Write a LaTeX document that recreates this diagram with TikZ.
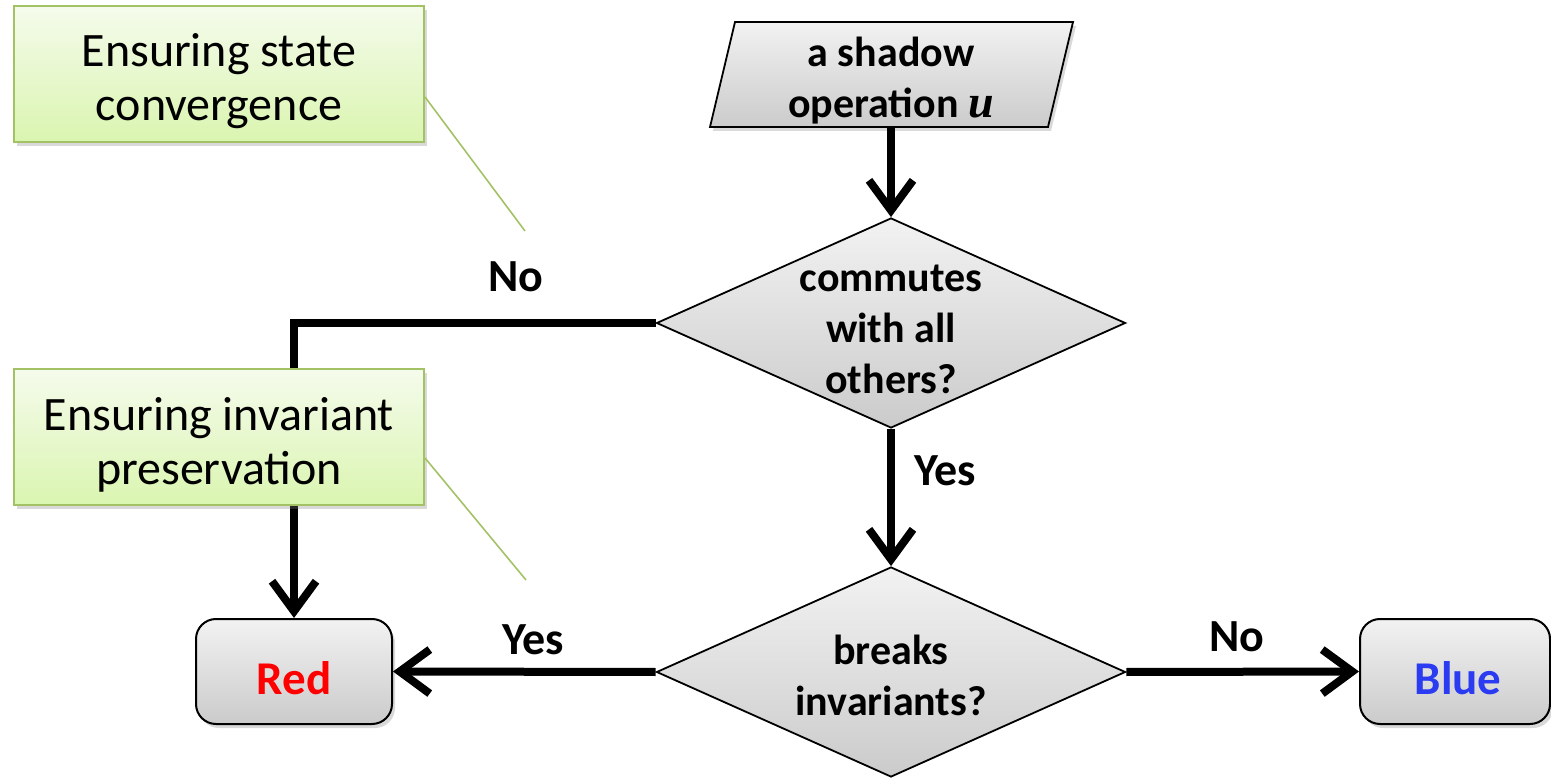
\documentclass[tikz,border=0pt]{standalone}
\usepackage{fontspec}
\setmainfont{Carlito}
\newfontfamily\cambriaish{Liberation Serif}
\usetikzlibrary{shapes.geometric,arrows.meta,shadows}
\definecolor{calloutborder}{HTML}{A3C266}
\definecolor{callouttop}{HTML}{F5FBEC}
\definecolor{calloutbot}{HTML}{DAF5B0}
\definecolor{graytop}{HTML}{F2F2F2}
\definecolor{graybot}{HTML}{CBCBCB}
\definecolor{bluetext}{HTML}{2B3BF2}
\definecolor{redtext}{HTML}{FF0000}
\tikzset{
  myshadow/.style={drop shadow={opacity=0.3,shadow xshift=1.5pt,shadow yshift=-2pt}},
  callout/.style={rectangle,draw=calloutborder,line width=1pt,top color=callouttop,bottom color=calloutbot,
    minimum width=205pt,minimum height=68pt,inner sep=0pt,myshadow},
  callouttext/.style={align=center,inner sep=0pt,font=\fontsize{24}{27}\selectfont},
  pointer/.style={draw=calloutborder,line width=0.8pt},
  decision/.style={diamond,draw=black,line width=0.9pt,top color=graytop,bottom color=graybot,
    minimum width=234.5pt,minimum height=105pt,inner sep=0pt},
  dtext/.style={align=center,inner sep=0pt,font=\bfseries\fontsize{21}{25.5}\selectfont},
  result/.style={rectangle,rounded corners=10pt,draw=black,line width=1pt,top color=graytop,bottom color=graybot,
    minimum height=52.5pt,inner sep=0pt,myshadow},
  rtext/.style={inner sep=0pt,font=\bfseries\fontsize{23.5}{27}\selectfont},
  flow/.style={line width=4pt,-{Straight Barb[length=15pt,width=22pt]}},
  lbl/.style={font=\bfseries\fontsize{23}{27}\selectfont,inner sep=0pt},
}
\begin{document}
\begin{tikzpicture}[x=0.5pt,y=-0.5pt]
\useasboundingbox (0,0) rectangle (1551,779);
% parallelogram input
\fill[top color=graytop,bottom color=graybot,draw=black,line width=0.9pt,myshadow]
  (735,22) -- (1073,22) -- (1048,127) -- (710,127) -- cycle;
\node[inner sep=0pt,minimum width=150pt,minimum height=52.5pt] (op) at (891,75) {};
\node[dtext] (optext) at (891,81)
  {a shadow\\operation {\cambriaish\bfseries\itshape\fontsize{23}{25.5}\selectfont u}};
% decisions
\node[decision] (d1) at (891,323) {};
\node[dtext] (d1text) at (891,329.5) {commutes\\with all\\others?};
\node[decision] (d2) at (891,672) {};
\node[dtext] (d2text) at (891,675) {breaks\\invariants?};
% results
\node[result,minimum width=98pt] (red) at (294,671.5) {};
\node[rtext,text=redtext] (redtext) at (294,678) {Red};
\node[result,minimum width=95pt] (blue) at (1455,671.5) {};
\node[rtext,text=bluetext] (bluetext) at (1458,678) {Blue};
% connectors
\coordinate (corner) at (294,323);
\draw[flow] (op.south) -- (d1.north);
\draw[flow] (d1.south) -- (d2.north);
\draw[flow,line join=miter] (d1.west) -- (corner) -- (red.north);
\draw[flow] (d2.west) -- (red.east);
\draw[flow] (d2.east) -- (blue.west);
% labels
\node[lbl] (lno1) at (516,277) {No};
\node[lbl] (lyes1) at (945,471) {Yes};
\node[lbl] (lyes2) at (533,640) {Yes};
\node[lbl] (lno2) at (1237,637) {No};
% callouts
\coordinate (p1) at (525,231);
\coordinate (p2) at (526,580);
\node[callout] (c1) at (219,74) {};
\node[callouttext] (c1text) at (219,81) {Ensuring state\\convergence};
\node[callout] (c2) at (219,437.5) {};
\node[callouttext] (c2text) at (219,444.5) {Ensuring invariant\\preservation};
\draw[pointer] (c1.east |- 0,97) -- (p1);
\draw[pointer] (c2.east |- 0,458) -- (p2);
\end{tikzpicture}
\end{document}
